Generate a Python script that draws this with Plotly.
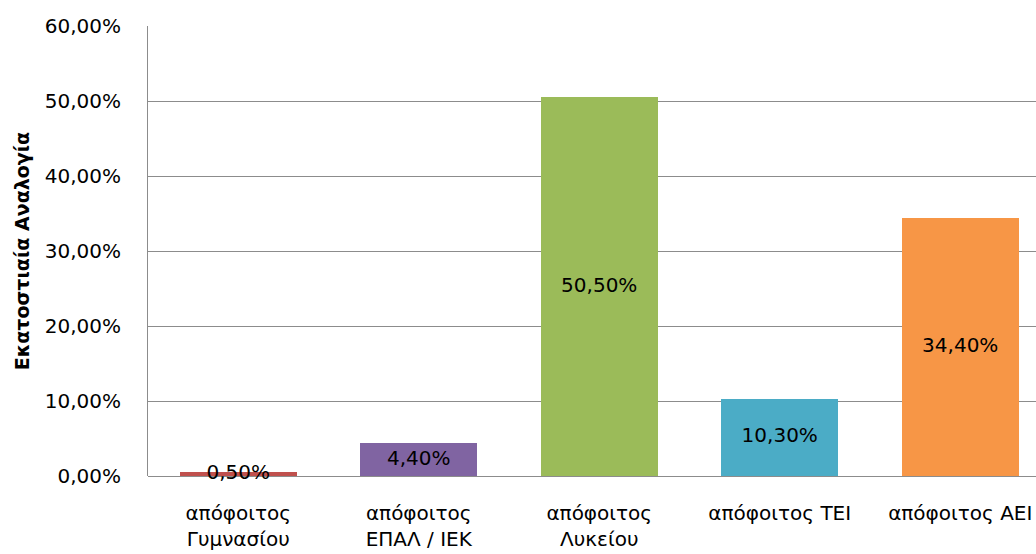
import plotly.graph_objects as go

# Education level categories and their share (%)
categories = ["απόφοιτος<br>Γυμνασίου", "απόφοιτος<br>ΕΠΑΛ / ΙΕΚ", "απόφοιτος<br>Λυκείου",
              "απόφοιτος ΤΕΙ", "απόφοιτος ΑΕΙ"]
values = [0.5, 4.4, 50.5, 10.3, 34.4]
bar_colors = ["#C0504D", "#8064A2", "#9BBB59", "#4BACC6", "#F79646"]
y_title = "Εκατοστιαία Αναλογία"

font_family = "DejaVu Sans, Open Sans, sans-serif"
grid_color = "#8C8C8C"
text_color = "#000000"

labels = [f"{v:.2f}%".replace(".", ",") for v in values]

fig = go.Figure()
fig.add_trace(go.Bar(
    x=categories, y=values,
    marker=dict(color=bar_colors, line=dict(width=0)),
    width=0.646,
    hoverinfo="skip",
    showlegend=False,
))
# value labels centred within each bar
fig.add_trace(go.Scatter(
    x=categories, y=[v / 2 for v in values],
    mode="text", text=labels,
    textposition="middle center",
    textfont=dict(family=font_family, size=20, color=text_color),
    cliponaxis=False,
    hoverinfo="skip",
    showlegend=False,
))

fig.update_layout(
    width=1036, height=554,
    margin=dict(l=148, r=0, t=26, b=78),
    paper_bgcolor="white", plot_bgcolor="white",
    separators=",.",
    font=dict(family=font_family, size=20, color=text_color),
    bargap=0,
)
fig.update_xaxes(
    type="category",
    range=[-0.5, -0.5 + 888 / 180.5],
    showgrid=False,
    showline=False,
    zeroline=False,
    ticks="",
    ticklabelstandoff=23,
    tickfont=dict(family=font_family, size=20, color=text_color),
    automargin=False,
)
fig.update_yaxes(
    range=[0, 60],
    dtick=10,
    tickformat=".2f",
    ticksuffix="%",
    showgrid=True, gridcolor=grid_color, gridwidth=1,
    showline=True, linecolor=grid_color, linewidth=1,
    zeroline=True, zerolinecolor=grid_color, zerolinewidth=1,
    ticks="",
    ticklabelstandoff=22,
    tickfont=dict(family=font_family, size=20, color=text_color),
    title=dict(text="<b>" + y_title + "</b>", standoff=10,
               font=dict(family=font_family, size=19, color=text_color)),
    automargin=False,
)

fig.write_html("out.html")
